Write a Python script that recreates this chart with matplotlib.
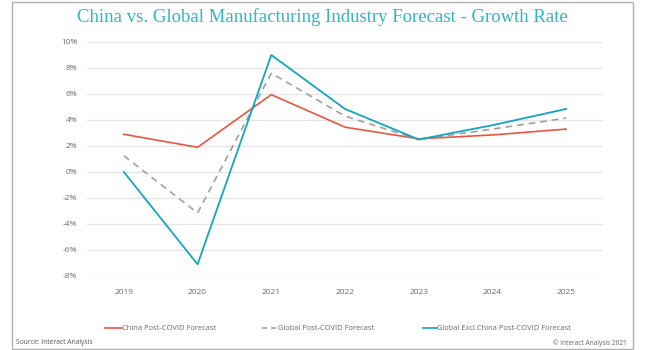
import matplotlib
matplotlib.use("Agg")
import matplotlib.pyplot as plt
from matplotlib.patches import Rectangle
from matplotlib.lines import Line2D

years = ["2019", "2020", "2021", "2022", "2023", "2024", "2025"]
china = [2.9, 1.9, 5.95, 3.45, 2.55, 2.85, 3.3]
global_ = [1.25, -3.15, 7.6, 4.3, 2.5, 3.3, 4.15]
excl_china = [0.0, -7.1, 9.0, 4.85, 2.5, 3.6, 4.85]
yticks = [-8, -6, -4, -2, 0, 2, 4, 6, 8, 10]

series_names = ["China Post-COVID Forecast", "Global Post-COVID Forecast",
                "Global Excl.China Post-COVID Forecast"]

W, H = 645, 350
fig = plt.figure(figsize=(W / 100, H / 100), dpi=100)
plt.rcParams['font.family'] = ['Open Sans', 'DejaVu Sans']

ax = fig.add_axes([87 / W, 1 - 276 / H, (603 - 87) / W, (276 - 42) / H])
x = list(range(len(years)))
red = "#e8563f"
gray = "#a0a0a0"
blue = "#13a5c2"
ax.plot(x, china, color=red, lw=1.2, zorder=3)
ax.plot(x, global_, color=gray, lw=1.2, ls=(0, (4, 3)), zorder=3)
ax.plot(x, excl_china, color=blue, lw=1.3, zorder=4)

ax.set_xlim(-0.5, len(years) - 0.5)
ax.set_ylim(-8, 10)
ax.set_yticks(yticks)
ax.set_yticklabels([f"{v}%" for v in yticks])
ax.set_xticks(x)
ax.set_xticklabels(years)
ax.grid(axis="y", color="#e6e6e6", lw=0.9)
ax.set_axisbelow(True)
for s in ax.spines.values():
    s.set_visible(False)
ax.tick_params(length=0, labelsize=6, labelcolor="#6a6a6a")
ax.tick_params(axis="y", pad=7)
ax.tick_params(axis="x", pad=9)

fig.text(322 / W, 1 - 17 / H, "China vs. Global Manufacturing Industry Forecast - Growth Rate",
         ha="center", va="center", fontsize=13.5, color="#2fb6c4",
         family=["Liberation Serif", "DejaVu Serif"])

# legend
leg_y = 1 - 328 / H
for (x0, x1, tx), name, col, ls in zip(
        [(105, 122, 122), (262, 277, 278), (423, 437, 437)],
        series_names, [red, gray, blue], ["-", (0, (3, 2.5)), "-"]):
    fig.add_artist(Line2D([x0 / W, x1 / W], [leg_y, leg_y], color=col, lw=1.2, ls=ls))
    fig.text(tx / W, leg_y, name, ha="left", va="center", fontsize=5.4, color="#6a6a6a")

fig.text(16 / W, 1 - 343 / H, "Source: Interact Analysis", ha="left", va="center",
         fontsize=4.9, color="#555555")
fig.text(627 / W, 1 - 343 / H, "\u00a9 Interact Analysis 2021", ha="right", va="center",
         fontsize=4.7, color="#666666")

fig.add_artist(Rectangle((12 / W, 1 / H), (633 - 12) / W, (H - 3) / H,
                         transform=fig.transFigure, fill=False, edgecolor="#b0b0b0", lw=1))

fig.savefig("out.png", dpi=100)
